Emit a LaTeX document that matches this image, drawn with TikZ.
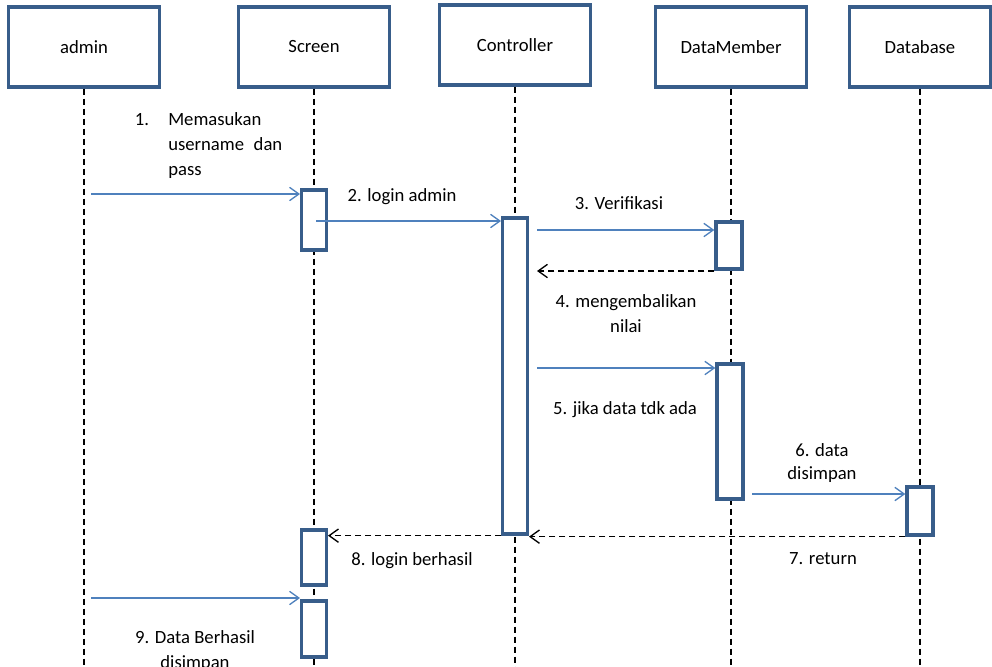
\documentclass[tikz,border=0pt]{standalone}
\usepackage{fontspec}
\setmainfont{Carlito}
\usetikzlibrary{arrows.meta}
\definecolor{boxblue}{RGB}{56,93,138}
\definecolor{msgblue}{RGB}{79,129,189}
\tikzset{
  head/.style={draw=boxblue, line width=2.5pt, fill=white, minimum width=113pt, minimum height=60pt, inner sep=0pt, font=\fontsize{14}{16}\selectfont},
  act/.style={draw=boxblue, line width=2.5pt, fill=white, minimum width=18.5pt, inner sep=0pt},
  life/.style={draw=black, line width=1pt, dash pattern=on 4.5pt off 3pt},
  tipv/.tip={Straight Barb[length=7pt,width=10pt,line width=1pt]},
  msg/.style={draw=msgblue, line width=1pt, -tipv},
  ret/.style={draw=black, line width=1pt, dash pattern=on 4.5pt off 3pt, -tipv},
  lbl/.style={inner sep=0pt, font=\fontsize{14}{18.75}\selectfont},
}
\begin{document}
\begin{tikzpicture}[x=0.75pt, y=-0.75pt]
\useasboundingbox (0,0) rectangle (992,667);
\coordinate (bot) at (0,667);
% heads
\node[head] (admin) at (84,47) {admin};
\node[head] (screen) at (314,47) {Screen};
\node[head] (ctrl) at (515,45) {Controller};
\node[head] (dm) at (731,47) {DataMember};
\node[head, minimum width=106pt] (db) at (920,47) {Database};
% lifelines
\draw[life] (admin.south) -- (admin.south |- bot);
\draw[life] (screen.south) -- (screen.south |- bot);
\draw[life] (ctrl.south) -- (ctrl.south |- bot);
\draw[life] (dm.south) -- (dm.south |- bot);
\draw[life] (db.south) -- (db.south |- bot);
% activations
\node[act, minimum height=45pt] (sa1) at (314,220) {};
\node[act, minimum height=237pt] (ca) at (515,376) {};
\node[act, minimum width=19.5pt, minimum height=35.25pt] (da1) at (729,245.5) {};
\node[act, minimum width=19.5pt, minimum height=101.25pt] (da2) at (730,431.5) {};
\node[act, minimum width=19.5pt, minimum height=36pt] (dba) at (920,511) {};
\node[act, minimum height=41.25pt] (sa2) at (314,557.5) {};
\node[act, minimum height=42pt] (sa3) at (314,629) {};
% message start points
\coordinate (m1) at (91,194);
\coordinate (m2) at (316,221);
\coordinate (m3) at (537,230);
\coordinate (m4) at (537,271);
\coordinate (m5) at (537,368);
\coordinate (m6) at (752,494);
\coordinate (m9) at (91,598);
% messages
\draw[msg] (m1) -- (sa1.west |- m1);
\draw[msg] (m2) -- (ca.west |- m2);
\draw[msg] (m3) -- (da1.west |- m3);
\draw[ret] (da1.west |- m4) -- (m4);
\draw[msg] (m5) -- (da2.west |- m5);
\draw[msg] (m6) -- (dba.west |- m6);
\draw[ret] (dba.south west) -- (ca.east |- dba.south west);
\draw[ret] (ca.south west) -- (sa2.east |- ca.south west);
\draw[msg] (m9) -- (sa3.west |- m9);
% labels
\node[lbl] (l1n) at (142,120) {1.};
\node[lbl, text width=85.5pt, anchor=west] (l1) at (168,146) {Memasukan\\username\hfill dan\\pass};
\node[lbl] (l2) at (402,197) {2. login admin};
\node[lbl] (l3) at (619,203) {3. Verifikasi};
\node[lbl, align=center] (l4) at (626,314) {4. mengembalikan\\nilai};
\node[lbl] (l5) at (625,410) {5. jika data tdk ada};
\node[lbl, align=center, font=\fontsize{14}{17.25}\selectfont] (l6) at (822,463) {6. data\\disimpan};
\node[lbl] (l7) at (823,559) {7. return};
\node[lbl] (l8) at (412,561) {8. login berhasil};
\node[lbl, align=center] (l9) at (195,651) {9. Data Berhasil\\disimpan};
\end{tikzpicture}
\end{document}
